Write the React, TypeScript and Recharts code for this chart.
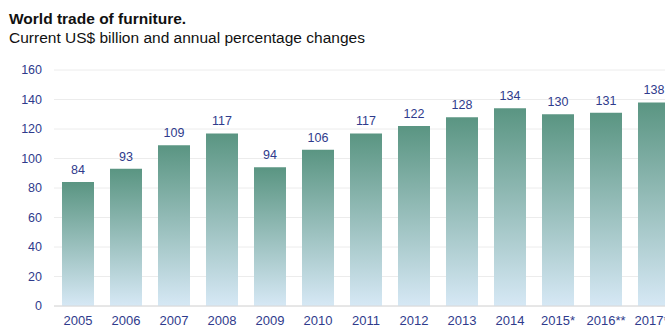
import { Bar, BarChart, CartesianGrid, LabelList, XAxis, YAxis } from "recharts";

const years = ["2005", "2006", "2007", "2008", "2009", "2010", "2011", "2012", "2013", "2014", "2015*", "2016**", "2017**"];
const tradeValues = [84, 93, 109, 117, 94, 106, 117, 122, 128, 134, 130, 131, 138];
const yTicks = [0, 20, 40, 60, 80, 100, 120, 140, 160];

const data = years.map((year, i) => ({ year, value: tradeValues[i] }));

const navy = "#2f3b8c";
const font = "'Liberation Sans', Arial, sans-serif";

export default function App() {
  return (
    <div
      style={{
        position: "fixed",
        left: 0,
        top: 0,
        width: 665,
        height: 327,
        overflow: "hidden",
        background: "#fff",
        fontFamily: font
      }}
    >
      <div style={{ position: "absolute", left: 9, top: 10, fontSize: 15.5, fontWeight: "bold", color: "#111" }}>
        World trade of furniture.
      </div>
      <div style={{ position: "absolute", left: 9, top: 29, fontSize: 15.5, color: "#111" }}>
        Current US$ billion and annual percentage changes
      </div>
      <BarChart
        width={680}
        height={327}
        data={data}
        margin={{ top: 70, right: 2, bottom: 0, left: 0 }}
        barSize={32}
      >
        <defs>
          <linearGradient id="barFill" x1="0" x2="0" y1="0" y2="1">
            <stop offset="0%" stopColor="#5a9582" />
            <stop offset="100%" stopColor="#d6e8f5" />
          </linearGradient>
        </defs>
        <CartesianGrid stroke="#ececec" vertical={false} />
        <XAxis
          dataKey="year"
          height={21}
          axisLine={{ stroke: "#d8d8d8" }}
          tickLine={false}
          tickMargin={4}
          tick={{ fill: navy, fontSize: 13, fontFamily: font }}
          interval={0}
        />
        <YAxis
          domain={[0, 160]}
          ticks={yTicks}
          width={54}
          axisLine={false}
          tickLine={false}
          tickMargin={6}
          tick={{ fill: navy, fontSize: 12.5, fontFamily: font }}
        />
        <Bar dataKey="value" fill="url(#barFill)" isAnimationActive={false}>
          <LabelList
            dataKey="value"
            position="top"
            offset={8}
            style={{ fill: navy, fontSize: 12.5, fontFamily: font }}
          />
        </Bar>
      </BarChart>
    </div>
  );
}
